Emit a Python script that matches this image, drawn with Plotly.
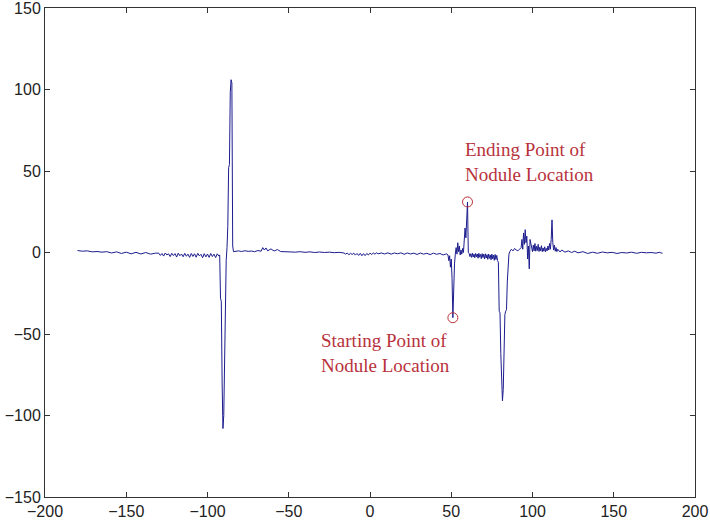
import plotly.graph_objects as go

# tramo izquierdo, casi plano
x1 = [-180, -177, -174, -171, -168, -165, -162, -159, -156, -153, -150, -147, -144, -141, -138, -135, -132]
y1 = [1.2, 0.8, 1.0, 0.4, 0.6, 0.2, 0.5, -0.3, 0.4, -0.6, 0.2, -0.8, 0.1, -0.9, 0.0, -1.0, -0.4]

# zona ligeramente negativa antes del pico grande
x2 = [-130, -129, -128, -127, -126, -125, -124, -123, -122, -121, -120, -119, -118, -117, -116, -115,
      -114, -113, -112, -111, -110, -109, -108, -107, -106, -105, -104, -103, -102, -101, -100, -99,
      -98, -97, -96, -95, -94, -93]
y2 = [-0.4, -1.8, -0.6, -2.2, -0.3, -1.5, -0.8, -2.5, -0.5, -1.9,
      -0.7, -2.8, -0.4, -2.0, -0.9, -2.6, -0.5, -2.3, -1.0, -3.0,
      -0.6, -2.4, -0.8, -2.9, -0.5, -2.1, -1.1, -3.2, -0.7, -2.7,
      -0.9, -3.0, -0.6, -2.5, -1.0, -3.1, -0.8, -2.2]

# pico grande
x3 = [-92.5, -92, -91.5, -91, -90.5, -90, -89.5, -89, -88.5, -88, -87.5, -87, -86.5, -86, -85.5, -85, -84.5, -84]
y3 = [-1.5, -28, -30, -80, -108, -100, -60, -25, -5, 3, 16, 52, 54, 98, 106, 104, 4, 0.5]

# tramo central
x4 = [-83, -81, -79, -77, -75, -73, -71, -69, -67,
      -66, -65, -64, -63, -61, -59, -57, -55,
      -52, -49, -46, -43, -40, -37, -34, -31, -28, -25, -22, -19, -16,
      -15, -14, -13, -12, -11, -10, -9, -8, -7, -6, -5, -4, -3, -2, -1,
      0, 1, 2, 3, 4, 5,
      7, 9, 11, 13, 15, 17, 19, 21, 23, 25, 27, 29, 31, 33, 35, 37, 39, 41, 43, 45, 47]
y4 = [0.8, 1.0, 0.6, 1.1, 0.7, 0.9, 0.5, 1.2, 0.8,
      3.0, 1.5, 2.8, 1.0, 2.2, 0.9, 1.8, 0.6,
      0.4, 0.6, 0.2, 0.5, 0.1, 0.4, 0.0, 0.3, 0.0, 0.2, -0.1, 0.1, -0.3,
      -1.0, -0.3, -1.4, -0.5, -1.2, -0.4, -1.6, -0.6, -1.8, -0.5, -2.0, -0.7, -1.9, -0.6, -1.5,
      -0.4, -1.2, -0.3, -1.0, -0.2, -0.8,
      -0.3, -0.9, -0.2, -1.0, -0.3, -0.8, -0.2, -1.1, -0.3, -0.9, -0.4, -1.2, -0.3, -1.0, -0.5,
      -1.3, -0.4, -1.1, -0.6, -1.5, -0.8]

# zona del nódulo
x5 = [48, 48.5, 49, 49.5, 50, 50.5, 51, 51.5, 52, 52.5, 53, 53.5, 54, 54.5, 55, 55.5,
      56, 56.5, 57, 57.5, 58, 58.5, 59, 59.5, 60, 60.5]
y5 = [-1.5, -5, -2, -9, -4, -16, -40, -18, -7, -1, 3, -1, 6, 0.5, 4, -1.5,
      1.5, -1, 2.5, 0, 6, 15, 9, 17, 31, 0]

x6 = [61, 61.5, 62, 62.5, 63, 63.5, 64, 64.5, 65, 65.5, 66, 66.5, 67, 67.5, 68, 68.5, 69, 69.5,
      70, 70.5, 71, 71.5, 72, 72.5, 73, 73.5, 74, 74.5, 75, 75.5, 76, 76.5, 77, 77.5, 78, 78.5]
y6 = [-0.5, -2.5, -0.8, -3.0, -0.4, -2.8, -1.0, -3.2, -0.6, -2.6, -0.9, -3.5, -0.5, -2.9, -1.2, -3.8,
      -0.7, -3.1, -1.0, -4.0, -0.8, -3.4, -1.3, -4.2, -0.9, -3.6, -1.5, -4.5, -1.0, -3.9, -1.6, -4.8,
      -1.2, -4.3, -1.8, -5.0]

# segundo valle
x7 = [79, 79.5, 80, 80.5, 81, 81.5, 82, 82.5, 83, 83.5, 84, 84.5, 85, 85.5]
y7 = [-6, -36, -37, -62, -88, -91, -84, -55, -38, -36, -35, -18, -4, -1]

x8 = [86, 87, 88, 89, 90, 91, 92, 93, 93.5, 94, 94.5, 95, 95.5, 96, 96.5, 97, 97.5, 98, 98.5, 99, 99.5]
y8 = [0.5, 2, 1, 2.5, 1.5, 1, 2, 3, 8, 2, 12, 5, 14, 6, 10, -4, 4, -10, 8, 6, 3]

x9 = [100, 100.5, 101, 101.5, 102, 102.5, 103, 103.5, 104, 104.5, 105, 105.5, 106, 106.5, 107, 107.5,
      108, 108.5, 109, 109.5, 110, 110.5, 111, 111.5, 112, 112.5, 113, 113.5, 114, 114.5, 115, 115.5]
y9 = [0.5, 4.5, 1.0, 5.5, 0.8, 3.8, 1.2, 5.0, 0.6, 3.2, 1.0, 4.2, 0.5, 2.8, 0.8, 3.5,
      0.4, 2.5, 1.0, 4.0, 1.5, 5.5, 2.0, 8.0, 20.0, 6.0, 1.5, 4.5, 0.8, 3.0, 0.5, 2.0]

# tramo derecho
x10 = [116, 117, 118, 120, 122, 124, 126, 128, 131, 134, 137, 140, 143, 146, 149, 152, 155, 158,
       161, 164, 167, 170, 173, 176, 178, 180]
y10 = [1.2, 0.3, 1.5, 0.2, 1.0, 0.0, 0.8, -0.2, 0.5, -0.6, 0.2, -0.5, 0.3, -0.2, 0.1, -0.6, 0.0, -0.3,
       0.2, -0.5, 0.1, -0.2, 0.0, -0.4, 0.1, -0.5]

# puntos marcados
start_pt = (51, -40)
end_pt = (60, 31)

x = x1 + x2 + x3 + x4 + x5 + x6 + x7 + x8 + x9 + x10
y = y1 + y2 + y3 + y4 + y5 + y6 + y7 + y8 + y9 + y10

fig = go.Figure()

fig.add_trace(go.Scatter(
    x=x, y=y, mode='lines',
    line=dict(color='#1c1c8e', width=1),
    showlegend=False
))

fig.add_trace(go.Scatter(
    x=[start_pt[0], end_pt[0]], y=[start_pt[1], end_pt[1]],
    mode='markers',
    marker=dict(symbol='circle-open', size=10, color='#b8323c', line=dict(width=1)),
    showlegend=False
))

red = '#b8323c'
fig.add_annotation(x=57.2, y=55.5, xref='x', yref='y', xanchor='left', yanchor='middle',
                   text='Ending Point of<br>Nodule Location', showarrow=False, align='left',
                   font=dict(family='Liberation Serif', size=19, color=red))
fig.add_annotation(x=-31.2, y=-61.7, xref='x', yref='y', xanchor='left', yanchor='middle',
                   text='Starting Point of<br>Nodule Location', showarrow=False, align='left',
                   font=dict(family='Liberation Serif', size=19, color=red))

axis_style = dict(
    showgrid=False, zeroline=False, automargin=False, ticklabeloverflow='allow',
    showline=True, linecolor='#333333', linewidth=1, mirror='ticks',
    ticks='inside', ticklen=5, tickcolor='#333333',
    tickfont=dict(family='Liberation Sans', size=16, color='#222222'),
)

fig.update_layout(
    width=710, height=522,
    margin=dict(l=45, r=15, t=8, b=25),
    paper_bgcolor='white', plot_bgcolor='white',
    xaxis=dict(range=[-200, 200], tickvals=[-200, -150, -100, -50, 0, 50, 100, 150, 200], **axis_style),
    yaxis=dict(range=[-150, 150], tickvals=[-150, -100, -50, 0, 50, 100, 150], **axis_style),
)

fig.write_html("out.html", config={'displayModeBar': False},
               post_script="document.body.style.margin='0';")
